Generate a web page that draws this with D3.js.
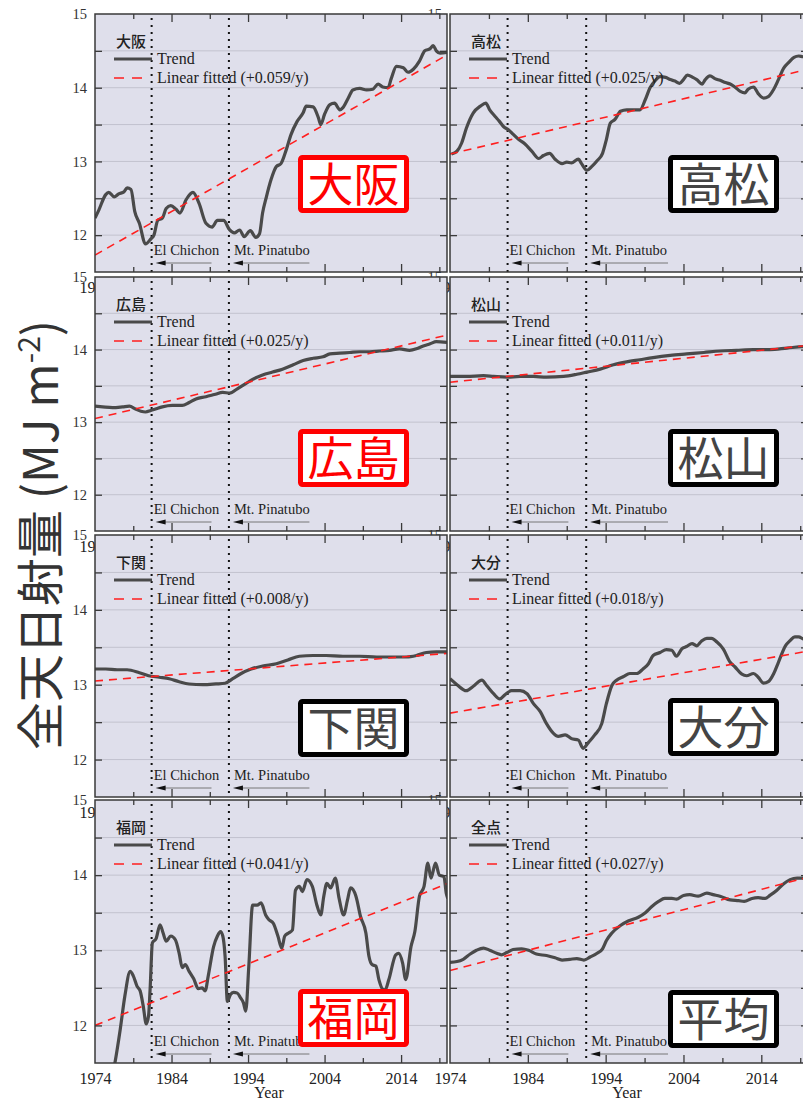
<!DOCTYPE html>
<html>
<head>
<meta charset="utf-8">
<script src="https://cdn.jsdelivr.net/npm/d3@7"></script>
<style>
  body { margin: 0; background: #fff; }
  svg { display: block; }
</style>
</head>
<body>
<svg id="chart" width="803" height="1100"></svg>
<script>
// ---- Data -------------------------------------------------------------
const stations    = ["大阪", "高松", "広島", "松山", "下関", "大分", "福岡", "平均"];
const legendNames = ["大阪", "高松", "広島", "松山", "下関", "大分", "福岡", "全点"];
const slopes      = [0.059, 0.025, 0.025, 0.011, 0.008, 0.018, 0.041, 0.027];
const fitAt1974   = [11.73, 13.10, 13.05, 13.55, 13.05, 12.62, 12.00, 12.73];
const redLabel    = [true, false, true, false, false, false, true, false];

const yearTicks  = [1974, 1984, 1994, 2004, 2014];
const valueTicks = [12, 13, 14, 15];
const eruptionNames = ["El Chichon", "Mt. Pinatubo"];
const eruptionYears = [1981.4, 1991.5];
const arrowYears    = [7.3, 10];

const trendOsaka = [[1974.0,12.23],[1974.5,12.34],[1975.4,12.55],[1975.8,12.58],[1976.5,12.52],[1977.1,12.56],
  [1977.8,12.59],[1978.2,12.64],[1978.7,12.62],[1979.2,12.32],[1979.8,12.16],[1980.6,11.88],[1981.3,11.95],
  [1981.7,12.0],[1982.2,12.2],[1982.8,12.23],[1983.3,12.36],[1983.9,12.40],[1984.6,12.35],[1985.1,12.30],
  [1985.9,12.48],[1986.8,12.58],[1987.6,12.43],[1988.5,12.16],[1989.3,12.11],[1990.0,12.20],[1990.8,12.20],
  [1991.6,12.07],[1992.2,12.03],[1992.9,12.07],[1993.5,11.98],[1994.3,12.06],[1995.0,11.97],[1995.5,12.02],
  [1995.9,12.30],[1996.4,12.52],[1997.0,12.75],[1997.7,12.93],[1998.3,12.97],[1999.0,13.16],[1999.6,13.36],
  [2000.4,13.54],[2001.2,13.66],[2001.6,13.75],[2002.5,13.74],[2003.2,13.59],[2003.5,13.50],[2004.0,13.64],
  [2004.7,13.77],[2005.3,13.79],[2006.0,13.70],[2006.4,13.73],[2007.1,13.86],[2007.7,13.97],[2008.6,13.99],
  [2009.5,13.97],[2010.3,13.98],[2011.0,14.05],[2011.6,14.01],[2012.3,14.0],[2012.7,14.12],[2013.4,14.29],
  [2014.3,14.27],[2014.9,14.21],[2015.6,14.25],[2016.4,14.36],[2017.1,14.50],[2017.8,14.53],[2018.2,14.57],
  [2018.6,14.50],[2019.1,14.47],[2020.0,14.48]];

const trendTakamatsu = [[1974.2,13.10],[1974.9,13.14],[1975.5,13.25],[1976.1,13.45],[1977.0,13.66],[1977.9,13.75],
  [1978.6,13.79],[1979.1,13.70],[1979.8,13.61],[1980.3,13.55],[1980.9,13.47],[1981.5,13.43],[1982.1,13.37],
  [1982.8,13.30],[1983.6,13.24],[1984.5,13.14],[1985.4,13.04],[1986.0,13.08],[1986.8,13.11],[1987.5,13.03],
  [1988.4,12.97],[1989.0,12.99],[1989.6,12.98],[1990.5,13.03],[1990.9,12.97],[1991.6,12.88],[1992.2,12.93],
  [1992.9,13.01],[1993.6,13.11],[1994.1,13.30],[1994.6,13.52],[1995.2,13.57],[1995.9,13.68],[1996.7,13.70],
  [1997.6,13.70],[1998.4,13.70],[1999.1,13.84],[1999.7,14.0],[2000.4,14.10],[2001.0,14.15],[2001.7,14.14],
  [2002.3,14.11],[2002.9,14.09],[2003.5,14.06],[2004.0,14.11],[2004.5,14.17],[2005.2,14.14],[2005.7,14.11],
  [2006.4,14.05],[2006.8,14.11],[2007.4,14.16],[2008.1,14.12],[2008.7,14.10],[2009.4,14.07],[2010.0,14.05],
  [2010.6,14.01],[2011.3,13.95],[2011.9,13.93],[2012.3,13.98],[2013.0,14.01],[2013.6,13.92],[2014.3,13.86],
  [2014.9,13.88],[2015.6,13.98],[2016.2,14.11],[2016.9,14.27],[2017.5,14.34],[2018.2,14.41],[2018.8,14.43],
  [2019.4,14.42],[2020.0,14.42]];

const trendHiroshima = [[1974.0,13.22],[1975.0,13.21],[1976.3,13.20],[1977.6,13.21],[1978.5,13.22],[1979.3,13.18],
  [1980.0,13.15],[1980.6,13.14],[1981.3,13.16],[1981.9,13.18],[1982.8,13.21],[1984.1,13.23],[1985.4,13.23],
  [1986.3,13.27],[1987.2,13.32],[1988.5,13.35],[1989.6,13.38],[1990.7,13.41],[1991.6,13.40],[1992.6,13.46],
  [1993.7,13.53],[1994.6,13.59],[1995.9,13.65],[1997.2,13.69],[1998.5,13.73],[1999.9,13.79],[2001.2,13.85],
  [2002.5,13.88],[2003.8,13.90],[2004.7,13.94],[2006.0,13.95],[2007.3,13.96],[2008.6,13.97],[2009.9,13.97],
  [2011.2,13.98],[2012.5,13.99],[2013.8,14.01],[2015.1,13.99],[2016.0,14.01],[2016.9,14.05],[2017.8,14.08],
  [2018.6,14.11],[2020.0,14.10]];

const trendMatsuyama = [[1974.0,13.63],[1976.1,13.63],[1978.3,13.64],[1979.6,13.63],[1981.3,13.62],[1983.0,13.63],
  [1984.7,13.63],[1986.4,13.62],[1988.6,13.63],[1990.3,13.66],[1991.6,13.69],[1993.3,13.73],[1995.0,13.79],
  [1996.7,13.83],[1998.4,13.86],[2000.1,13.89],[2002.3,13.92],[2004.4,13.94],[2006.6,13.96],[2008.7,13.98],
  [2010.8,13.99],[2013.0,14.00],[2015.1,14.00],[2017.3,14.02],[2019.4,14.04],[2020.0,14.04]];

const trendShimonoseki = [[1974.0,13.21],[1975.4,13.21],[1976.9,13.20],[1978.2,13.20],[1979.8,13.16],[1981.0,13.12],
  [1982.4,13.10],[1983.7,13.08],[1985.0,13.04],[1986.3,13.01],[1988.1,13.00],[1989.8,13.01],[1991.0,13.02],
  [1992.0,13.08],[1993.1,13.15],[1994.4,13.21],[1995.9,13.25],[1997.7,13.28],[1999.2,13.33],[2000.7,13.38],
  [2002.5,13.39],[2004.2,13.39],[2006.4,13.38],[2008.6,13.38],[2010.8,13.37],[2013.0,13.37],[2014.7,13.37],
  [2016.0,13.39],[2017.3,13.43],[2018.6,13.44],[2020.0,13.44]];

const trendOita = [[1974.0,13.08],[1974.9,13.0],[1976.1,12.92],[1977.0,12.98],[1978.1,13.06],[1978.7,12.99],
  [1979.6,12.88],[1980.4,12.81],[1981.1,12.87],[1981.9,12.92],[1983.0,12.92],[1983.9,12.88],[1984.7,12.75],
  [1985.6,12.64],[1986.4,12.48],[1987.3,12.35],[1987.9,12.31],[1988.8,12.33],[1989.6,12.28],[1990.5,12.26],
  [1991.1,12.15],[1991.8,12.23],[1992.6,12.33],[1993.5,12.48],[1994.1,12.75],[1994.8,12.99],[1995.4,13.06],
  [1996.3,13.11],[1997.1,13.15],[1998.0,13.15],[1998.8,13.21],[1999.5,13.28],[2000.1,13.39],[2001.0,13.43],
  [2001.8,13.47],[2002.5,13.46],[2003.1,13.38],[2003.8,13.48],[2004.4,13.51],[2005.1,13.55],[2005.7,13.52],
  [2006.3,13.58],[2007.0,13.62],[2007.6,13.62],[2008.3,13.57],[2009.1,13.48],[2010.0,13.30],[2010.6,13.24],
  [2011.5,13.14],[2012.1,13.12],[2013.0,13.15],[2013.6,13.10],[2014.3,13.02],[2014.9,13.04],[2015.6,13.15],
  [2016.2,13.30],[2017.1,13.52],[2017.7,13.59],[2018.3,13.64],[2018.8,13.64],[2019.4,13.61],[2020.0,13.60]];

const trendFukuoka = [[1976.0,11.2],[1976.6,11.5],[1977.3,11.95],[1977.9,12.39],[1978.6,12.72],[1979.0,12.66],
  [1979.5,12.52],[1979.9,12.46],[1980.3,12.26],[1980.7,12.02],[1981.0,12.13],[1981.2,12.48],[1981.5,13.10],
  [1982.0,13.16],[1982.5,13.34],[1982.9,13.23],[1983.3,13.12],[1983.9,13.19],[1984.5,13.14],[1985.0,12.96],
  [1985.4,12.77],[1985.8,12.81],[1986.3,12.72],[1986.9,12.62],[1987.5,12.49],[1988.0,12.50],[1988.4,12.46],
  [1988.8,12.66],[1989.5,13.05],[1990.0,13.19],[1990.4,13.25],[1990.7,13.19],[1991.0,12.92],[1991.3,12.32],
  [1991.7,12.41],[1992.1,12.44],[1992.6,12.43],[1993.0,12.37],[1993.4,12.30],[1993.7,12.19],[1994.1,12.79],
  [1994.6,13.60],[1995.2,13.60],[1995.7,13.63],[1996.3,13.47],[1996.7,13.41],[1997.3,13.36],[1997.9,13.19],
  [1998.4,13.03],[1998.8,13.19],[1999.3,13.23],[1999.8,13.27],[2000.2,13.80],[2000.7,13.85],[2001.1,13.78],
  [2001.7,13.94],[2002.4,13.85],[2003.0,13.60],[2003.5,13.47],[2003.9,13.72],[2004.3,13.89],[2004.8,13.83],
  [2005.4,13.96],[2005.9,13.69],[2006.5,13.47],[2007.0,13.67],[2007.4,13.83],[2008.1,13.72],[2008.7,13.45],
  [2009.4,13.23],[2009.8,12.92],[2010.2,12.81],[2010.7,12.79],[2011.1,12.61],[2011.6,12.48],[2011.9,12.47],
  [2012.4,12.61],[2013.3,12.94],[2013.7,12.96],[2014.2,12.83],[2014.6,12.61],[2015.3,13.05],[2015.8,13.25],
  [2016.4,13.72],[2017.0,13.85],[2017.5,14.16],[2017.9,13.96],[2018.5,14.16],[2019.0,14.00],[2019.6,13.98],
  [2019.9,13.76],[2020.1,13.69]];

const trendAll = [[1974.0,12.84],[1974.9,12.85],[1975.7,12.88],[1976.6,12.95],[1977.4,13.0],[1978.3,13.03],
  [1979.1,13.0],[1980.0,12.96],[1980.6,12.94],[1981.3,12.97],[1982.1,13.01],[1983.2,13.02],[1984.1,13.0],
  [1985.1,12.95],[1986.4,12.93],[1987.5,12.90],[1988.4,12.87],[1989.4,12.88],[1990.3,12.89],[1991.2,12.87],
  [1992.0,12.91],[1992.9,12.96],[1993.6,13.02],[1994.1,13.13],[1994.8,13.23],[1995.9,13.33],[1996.9,13.39],
  [1998.2,13.44],[1999.1,13.50],[1999.9,13.58],[2000.8,13.65],[2001.6,13.69],[2002.5,13.69],[2003.1,13.68],
  [2004.0,13.73],[2004.8,13.74],[2005.9,13.72],[2007.0,13.76],[2007.8,13.74],[2008.7,13.72],[2010.0,13.67],
  [2011.1,13.66],[2011.8,13.65],[2012.8,13.69],[2013.6,13.70],[2014.5,13.69],[2015.1,13.73],[2016.0,13.80],
  [2016.8,13.88],[2017.7,13.94],[2018.6,13.96],[2019.4,13.96],[2020.0,13.96]];

const trends = [trendOsaka, trendTakamatsu, trendHiroshima, trendMatsuyama,
                trendShimonoseki, trendOita, trendFukuoka, trendAll];

// ---- Layout -----------------------------------------------------------
const rowSpans = [[14, 272], [277, 531], [535, 797], [800, 1063]];
const colSpans = [[95, 447], [450, 808]];
const boxLeft  = [203, 218];
const boxTop   = [[141, 141], [152, 152], [164, 163], [189, 190]];
const boxW = 111, boxH = 58;

const serif = "'Liberation Serif', 'Times New Roman', serif";
const cjk   = "'Noto Sans CJK JP', 'Noto Sans CJK SC', sans-serif";
const BG = "#dfdfeb", GRID = "#c2c2ce", FRAME = "#3a3a3a", TREND = "#4a4a4a", FIT = "#ff1f1f";

const svg = d3.select("#chart");
const defs = svg.append("defs");

function drawPanel(i) {
  const row = Math.floor(i / 2), col = i % 2;
  const [x0, x1] = colSpans[col];
  const [y0, y1] = rowSpans[row];
  const x = d3.scaleLinear().domain([1974, 2020]).range([x0, x1]);
  const y = d3.scaleLinear().domain([11.5, 15]).range([y1, y0]);
  const g = svg.append("g");

  // tick labels (drawn first so neighbouring panels overlap them)
  g.append("g").attr("transform", `translate(${x0},0)`)
    .call(d3.axisLeft(y).tickValues(valueTicks).tickSize(0).tickPadding(8).tickFormat(d3.format("d")))
    .call(a => a.select(".domain").remove())
    .selectAll("text").attr("font-family", serif).attr("font-size", 14.5).attr("fill", "#333");
  g.append("g").attr("transform", `translate(0,${y1})`)
    .call(d3.axisBottom(x).tickValues(yearTicks).tickSize(0).tickPadding(10).tickFormat(d3.format("d")))
    .call(a => a.select(".domain").remove())
    .selectAll("text").attr("font-family", serif).attr("font-size", 16).attr("fill", "#222");
  g.append("text").attr("x", (x0 + x1 - 4) / 2).attr("y", y1 + 35)
    .attr("text-anchor", "middle").attr("font-family", serif).attr("font-size", 16)
    .attr("fill", "#222").text("Year");

  // plot area
  g.append("rect").attr("x", x0).attr("y", y0).attr("width", x1 - x0).attr("height", y1 - y0).attr("fill", BG);
  const clipId = "clip" + i;
  defs.append("clipPath").attr("id", clipId)
    .append("rect").attr("x", x0).attr("y", y0).attr("width", x1 - x0).attr("height", y1 - y0);
  const p = g.append("g").attr("clip-path", `url(#${clipId})`);

  const gridVals = d3.range(12, 15, 0.5);
  p.selectAll(".grid").data(gridVals).join("line")
    .attr("x1", x0).attr("x2", x1).attr("y1", d => y(d)).attr("y2", d => y(d))
    .attr("stroke", GRID).attr("stroke-width", 1);

  // eruption markers
  p.selectAll(".erupt").data(eruptionYears).join("line")
    .attr("x1", d => x(d)).attr("x2", d => x(d)).attr("y1", y0 + 4).attr("y2", y1)
    .attr("stroke", "#111").attr("stroke-width", 2).attr("stroke-dasharray", "2,5");

  // trend curve and linear fit
  const line = d3.line().x(d => x(d[0])).y(d => y(d[1])).curve(d3.curveMonotoneX);
  p.append("path").datum(trends[i]).attr("d", line)
    .attr("fill", "none").attr("stroke", TREND).attr("stroke-width", 3.2).attr("stroke-linejoin", "round");
  const fit = [1974, 2020].map(t => [t, fitAt1974[i] + slopes[i] * (t - 1974)]);
  p.append("path").datum(fit).attr("d", d3.line().x(d => x(d[0])).y(d => y(d[1])))
    .attr("fill", "none").attr("stroke", FIT).attr("stroke-width", 1.6).attr("stroke-dasharray", "8,6");

  // eruption annotations: name and a leftward arrow
  eruptionNames.forEach((name, k) => {
    const ex = x(eruptionYears[k]);
    const ay = y1 - 9;
    const tip = ex + 4, tail = x(eruptionYears[k] + arrowYears[k]) + 4;
    p.append("text").attr("x", ex + (k === 0 ? 2 : 5)).attr("y", y1 - 17)
      .attr("font-family", serif).attr("font-size", 14.5).attr("fill", "#222").text(name);
    p.append("line").attr("x1", tip + 6).attr("x2", tail).attr("y1", ay).attr("y2", ay)
      .attr("stroke", "#777").attr("stroke-width", 1);
    p.append("path").attr("d", `M${tip},${ay} L${tip + 10},${ay - 2.6} L${tip + 10},${ay + 2.6} Z`)
      .attr("fill", "#111");
  });

  // legend
  const lx = x0 + 19, ly = y0;
  g.append("text").attr("x", lx + 2).attr("y", ly + 33)
    .attr("font-family", cjk).attr("font-size", 15).attr("font-weight", 500).attr("fill", "#222")
    .text(legendNames[i]);
  g.append("line").attr("x1", lx).attr("x2", lx + 38).attr("y1", ly + 45).attr("y2", ly + 45)
    .attr("stroke", TREND).attr("stroke-width", 3);
  g.append("text").attr("x", lx + 43).attr("y", ly + 50)
    .attr("font-family", serif).attr("font-size", 16).attr("fill", "#222").text("Trend");
  g.append("line").attr("x1", lx).attr("x2", lx + 30).attr("y1", ly + 64).attr("y2", ly + 64)
    .attr("stroke", FIT).attr("stroke-width", 1.6).attr("stroke-dasharray", "10,8");
  g.append("text").attr("x", lx + 43).attr("y", ly + 69)
    .attr("font-family", serif).attr("font-size", 16).attr("fill", "#222")
    .text(`Linear fitted (+${slopes[i].toFixed(3)}/y)`);

  // frame and inward ticks
  g.append("rect").attr("x", x0).attr("y", y0).attr("width", x1 - x0).attr("height", y1 - y0)
    .attr("fill", "none").attr("stroke", FRAME).attr("stroke-width", 1.5);
  const yTickVals = d3.range(12, 15, 0.5);
  const styleTicks = a => { a.select(".domain").remove(); a.selectAll("line").attr("stroke", FRAME).attr("stroke-width", 1.3); };
  g.append("g").attr("transform", `translate(${x0},0)`)
    .call(d3.axisRight(y).tickValues(yTickVals).tickSize(7).tickFormat("")).call(styleTicks);
  g.append("g").attr("transform", `translate(${x1},0)`)
    .call(d3.axisLeft(y).tickValues(yTickVals).tickSize(7).tickFormat("")).call(styleTicks);
  const majorYears = d3.range(1984, 2020, 10), minorYears = d3.range(1979, 2020, 10);
  [[majorYears, 8], [minorYears, 5]].forEach(([vals, len]) => {
    g.append("g").attr("transform", `translate(0,${y0})`)
      .call(d3.axisBottom(x).tickValues(vals).tickSize(len).tickFormat("")).call(styleTicks);
    g.append("g").attr("transform", `translate(0,${y1})`)
      .call(d3.axisTop(x).tickValues(vals).tickSize(len).tickFormat("")).call(styleTicks);
  });

  // station name box
  const bx = x0 + boxLeft[col], by = y0 + boxTop[row][col];
  const colr = redLabel[i] ? "#ff0000" : "#000";
  g.append("rect").attr("x", bx + 2.5).attr("y", by + 2.5).attr("width", boxW - 5).attr("height", boxH - 5)
    .attr("rx", 2).attr("fill", "#fff").attr("stroke", colr).attr("stroke-width", 5);
  g.append("text").attr("x", bx + boxW / 2).attr("y", by + boxH / 2 + 17)
    .attr("text-anchor", "middle").attr("font-family", cjk).attr("font-size", 46)
    .attr("fill", redLabel[i] ? "#ff0000" : "#444").text(stations[i]);
}

// right column first in each row so the left column sits on top of its labels
for (let row = 0; row < 4; row++) {
  drawPanel(row * 2 + 1);
  drawPanel(row * 2);
}

// shared y-axis title
const title = svg.append("text")
  .attr("transform", "translate(58,535) rotate(-90)")
  .attr("text-anchor", "middle").attr("font-family", cjk).attr("font-size", 48).attr("fill", "#333");
title.append("tspan").text("全天日射量 (MJ m");
title.append("tspan").attr("font-size", 30).attr("dy", -18).text("-2");
title.append("tspan").attr("dy", 18).text(")");
</script>
</body>
</html>
